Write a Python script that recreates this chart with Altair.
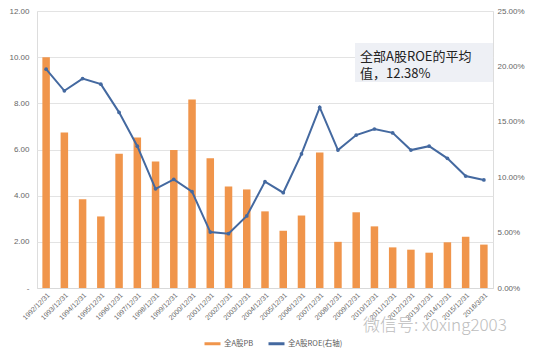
import altair as alt
import pandas as pd

dates = ["1992/12/31", "1993/12/31", "1994/12/31", "1995/12/31", "1996/12/31",
         "1997/12/31", "1998/12/31", "1999/12/31", "2000/12/31", "2001/12/31",
         "2002/12/31", "2003/12/31", "2004/12/31", "2005/12/31", "2006/12/31",
         "2007/12/31", "2008/12/31", "2009/12/31", "2010/12/31", "2011/12/31",
         "2012/12/31", "2013/12/31", "2014/12/31", "2015/12/31", "2016/3/31"]
pb = [10.0, 6.74, 3.85, 3.1, 5.82, 6.52, 5.48, 5.98, 8.17, 5.62,
      4.4, 4.27, 3.32, 2.48, 3.14, 5.87, 2.0, 3.28, 2.67, 1.76,
      1.66, 1.53, 1.98, 2.22, 1.88]
roe_pct = [19.75, 17.8, 18.9, 18.4, 15.85, 12.8, 8.95, 9.8, 8.7, 5.05,
           4.9, 6.5, 9.6, 8.6, 12.1, 16.3, 12.45, 13.8, 14.35, 14.0,
           12.45, 12.8, 11.7, 10.1, 9.75]
left_ticks = [0, 2, 4, 6, 8, 10, 12]
right_ticks = [0, 0.05, 0.10, 0.15, 0.20, 0.25]
series = ["全A股PB", "全A股ROE(右轴)"]
note_lines = ["全部A股ROE的平均", "值，12.38%"]
watermark = "微信号: x0xing2003"

ORANGE = "#F0954B"
BLUE = "#4469A0"
CJK = "Noto Sans CJK SC"
LAT = "Liberation Sans"

df = pd.DataFrame({"date": dates, "pb": pb, "roe": [v / 100 for v in roe_pct],
                   "s_pb": series[0], "s_roe": series[1]})

x_enc = alt.X("date:N", sort=dates,
              scale=alt.Scale(paddingInner=0.6, paddingOuter=0.3),
              axis=alt.Axis(title=None, labelAngle=-45, labelFontSize=7,
                            labelColor="#666666", labelFont=LAT, ticks=False,
                            domainColor="#d9d9d9", labelPadding=3))

color_scale = alt.Scale(domain=series, range=[ORANGE, BLUE])

bars = alt.Chart(df).mark_bar(size=7.5).encode(
    x=x_enc,
    y=alt.Y("pb:Q", scale=alt.Scale(domain=[0, 12]),
            axis=alt.Axis(title=None, values=left_ticks, grid=True,
                          gridColor="#e3e3e3", domain=False, ticks=False,
                          labelFontSize=8, labelColor="#666666", labelFont=LAT,
                          labelPadding=8,
                          labelExpr="datum.value == 0 ? '-' : format(datum.value, '.2f')")),
    color=alt.Color("s_pb:N", scale=color_scale,
                    legend=alt.Legend(title=None, orient="none", legendX=166, legendY=323,
                                      direction="horizontal", symbolType="stroke",
                                      symbolStrokeWidth=3, symbolSize=256,
                                      labelFontSize=7.5, labelFont=CJK, labelOffset=2,
                                      labelColor="#595959", columnPadding=8)),
)

line = alt.Chart(df).mark_line(strokeWidth=2, point=alt.OverlayMarkDef(size=14, filled=True)).encode(
    x=x_enc,
    y=alt.Y("roe:Q", scale=alt.Scale(domain=[0, 0.25]),
            axis=alt.Axis(title=None, orient="right", values=right_ticks, format=".2%",
                          grid=False, domain=False, ticks=False, labelFontSize=8,
                          labelColor="#666666", labelFont=LAT, labelPadding=4)),
    color=alt.Color("s_roe:N", scale=color_scale),
)

one = pd.DataFrame({"k": [0]})
box = alt.Chart(one).mark_rect(color="#eef0f5").encode(
    x=alt.value(318), x2=alt.value(456), y=alt.value(32), y2=alt.value(71))
note = alt.Chart(one).mark_text(align="left", baseline="alphabetic", fontSize=13,
                                font=CJK, color="#222222", lineHeight=17).encode(
    x=alt.value(323), y=alt.value(50), text=alt.value(note_lines))
wm = alt.Chart(one).mark_text(align="left", baseline="alphabetic", fontSize=17,
                              font=CJK, color="#bdbdbd", fontWeight=300).encode(
    x=alt.value(326), y=alt.value(320), text=alt.value(watermark))

chart = alt.layer(bars, line, box, note, wm).resolve_scale(y="independent").properties(
    width=456, height=277,
    autosize=alt.AutoSizeParams(type="none"),
    padding={"left": 37, "top": 11, "right": 40, "bottom": 63},
).configure_view(stroke=None).configure(background="white")

chart.save("out.html", embed_options={"renderer": "svg", "actions": False})
